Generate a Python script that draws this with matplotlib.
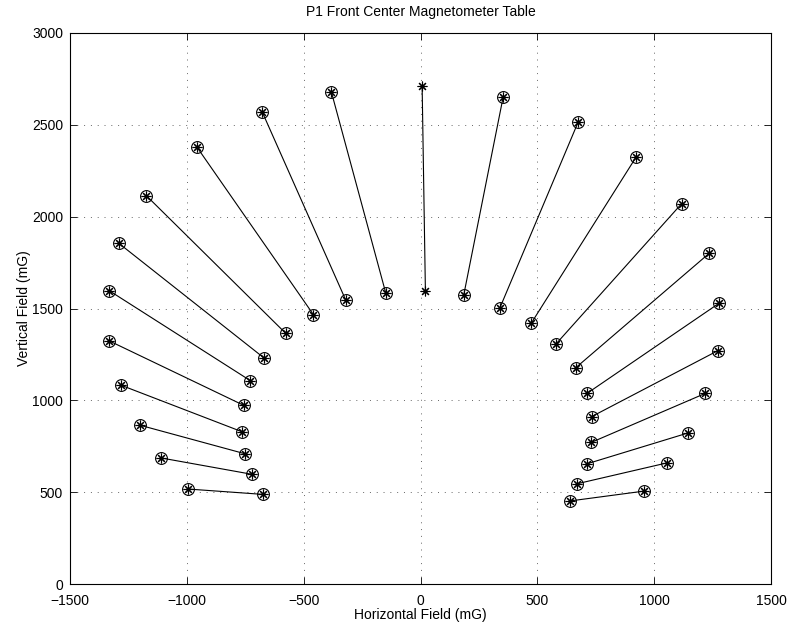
import numpy as np
import matplotlib
matplotlib.use("Agg")
import matplotlib.pyplot as plt

# outer end of each segment (mG)
outer_x = [-994, -1109, -1199, -1281, -1331, -1332, -1292, -1173, -958, -677, -381,
           7,
           354, 674, 922, 1117, 1235, 1277, 1272, 1219, 1144, 1057, 958]
outer_y = [517, 686, 864, 1082, 1323, 1597, 1856, 2114, 2381, 2569, 2677,
           2711,
           2653, 2513, 2323, 2070, 1800, 1528, 1270, 1038, 822, 660, 506]
# inner end of each segment (mG)
inner_x = [-675, -720, -751, -764, -757, -728, -671, -577, -458, -320, -149,
           21,
           185, 340, 474, 580, 664, 713, 732, 731, 714, 671, 639]
inner_y = [488, 597, 709, 829, 973, 1107, 1232, 1365, 1466, 1546, 1586,
           1595,
           1573, 1504, 1420, 1307, 1177, 1038, 911, 771, 655, 546, 452]
center_idx = 11

plt.rcParams["font.family"] = ["Liberation Sans", "DejaVu Sans"]
plt.rcParams["font.size"] = 10

fig = plt.figure(figsize=(7.9, 6.28), dpi=100)
ax = fig.add_axes([70 / 790, 44 / 628, 701 / 790, 551 / 628])

star = (8, 2, 0)
for i in range(len(outer_x)):
    xs = [outer_x[i], inner_x[i]]
    ys = [outer_y[i], inner_y[i]]
    ax.plot(xs, ys, color="black", linewidth=0.8, marker=star,
            markersize=7, markeredgewidth=0.8, zorder=3)
    if i != center_idx:
        ax.plot(xs, ys, linestyle="none", marker="o", markersize=8.5,
                markerfacecolor="none", markeredgecolor="black",
                markeredgewidth=0.8, zorder=3)

ax.set_xlim(-1500, 1500)
ax.set_ylim(0, 3000)
ax.set_xticks(np.arange(-1500, 1501, 500))
ax.set_yticks(np.arange(0, 3001, 500))
ax.tick_params(direction="in", length=5, width=0.6, top=True, right=True,
               labelsize=10)
ax.tick_params(axis="x", pad=7)
ax.tick_params(axis="y", pad=5)
for spine in ax.spines.values():
    spine.set_linewidth(0.8)
ax.grid(True, linestyle=(0, (1, 6)), linewidth=0.7, color="#666666")

ax.set_title("P1 Front Center Magnetometer Table", fontsize=10, pad=12)
ax.set_xlabel("Horizontal Field (mG)", fontsize=10, labelpad=0)
ax.set_ylabel("Vertical Field (mG)", fontsize=10, labelpad=0.5)

fig.savefig("out.png", dpi=100)
